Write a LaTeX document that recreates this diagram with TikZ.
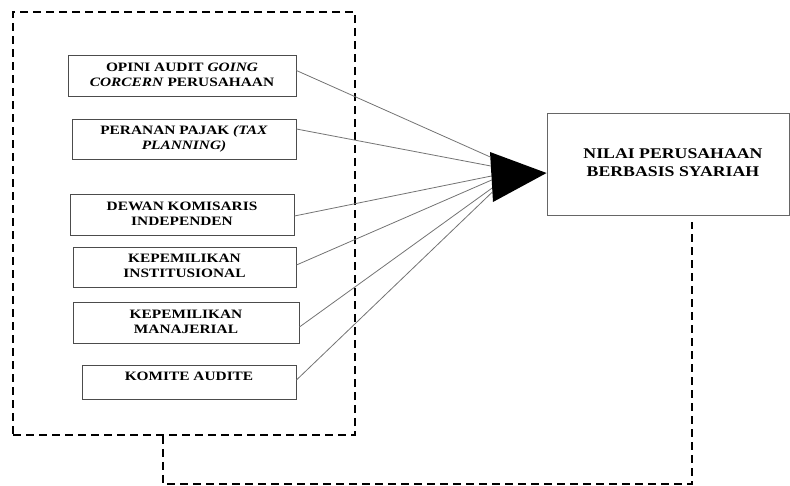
\documentclass[tikz,border=0pt]{standalone}
\usepackage{fontspec}
\setmainfont{Liberation Serif}
\usetikzlibrary{calc}

% text of the scanned figure is set a little wide
\newcommand{\widetext}[1]{\scalebox{1.2}[1]{\begin{tabular}{@{}c@{}}#1\end{tabular}}}

\tikzset{
    factor/.style={draw=black!70, line width=0.9pt, align=center,
        font=\bfseries\fontsize{12.8}{15}\selectfont, inner sep=0pt},
    result/.style={draw=black!60, line width=0.9pt, align=center,
        font=\bfseries\fontsize{14.8}{17.5}\selectfont, inner sep=0pt,
        minimum width=242pt, minimum height=102pt},
    frame/.style={draw, dash pattern=on 8pt off 5pt, line width=1.6pt},
    link/.style={draw=black!55, line width=0.8pt}
}

\begin{document}
\begin{tikzpicture}[x=1pt, y=-1pt]
    \useasboundingbox (0,0) rectangle (790,485);

    % grouping frame round the independent variables
    \node[frame, minimum width=342pt, minimum height=423pt] (group) at (184,223.5) {};

    % independent variables
    \node[factor, minimum width=228pt, minimum height=41pt] (opini) at (182,75.5)
        {\widetext{OPINI AUDIT \textit{GOING}\\\textit{CORCERN} PERUSAHAAN}};
    \node[factor, minimum width=224pt, minimum height=40pt] (pajak) at (184,139)
        {\widetext{PERANAN PAJAK \textit{(TAX}\\\textit{PLANNING)}}};
    \node[factor, minimum width=224pt, minimum height=41pt] (dewan) at (182,214.5)
        {\widetext{DEWAN KOMISARIS\\INDEPENDEN}};
    \node[factor, minimum width=223pt, minimum height=40pt] (inst) at (184.5,267)
        {\widetext{KEPEMILIKAN\\INSTITUSIONAL}};
    \node[factor, minimum width=226pt, minimum height=41pt] (manaj) at (186,322.5)
        {\widetext{KEPEMILIKAN\\MANAJERIAL}};
    \node[factor, minimum width=214pt, minimum height=34pt, text depth=14pt] (komite) at (189,382)
        {\widetext{KOMITE AUDITE}};

    % dependent variable
    \node[result] (nilai) at (668,164) {\hspace*{10pt}\widetext{NILAI PERUSAHAAN\\BERBASIS SYARIAH}};

    % big arrow head
    \coordinate (ta) at (490,152);
    \coordinate (tb) at (493,202);
    \fill (ta) -- (nilai.west |- 0,173) -- (tb) -- cycle;

    % links into the arrow head
    \draw[link] ([yshift=5pt]opini.east) -- ($(ta)!0.10!(tb)$);
    \draw[link] ([yshift=10pt]pajak.east) -- ($(ta)!0.28!(tb)$);
    \draw[link] ([yshift=-1.5pt]dewan.east) -- ($(ta)!0.48!(tb)$);
    \draw[link] ([yshift=2pt]inst.east) -- ($(ta)!0.56!(tb)$);
    \draw[link] ([yshift=-4.5pt]manaj.east) -- ($(ta)!0.72!(tb)$);
    \draw[link] ([yshift=2pt]komite.east) -- ($(ta)!0.80!(tb)$);

    % dashed feedback line
    \draw[frame] ([xshift=-21pt]group.south) -- ++(0,48)
        -| ([xshift=24pt,yshift=-7pt]nilai.south);
\end{tikzpicture}
\end{document}
